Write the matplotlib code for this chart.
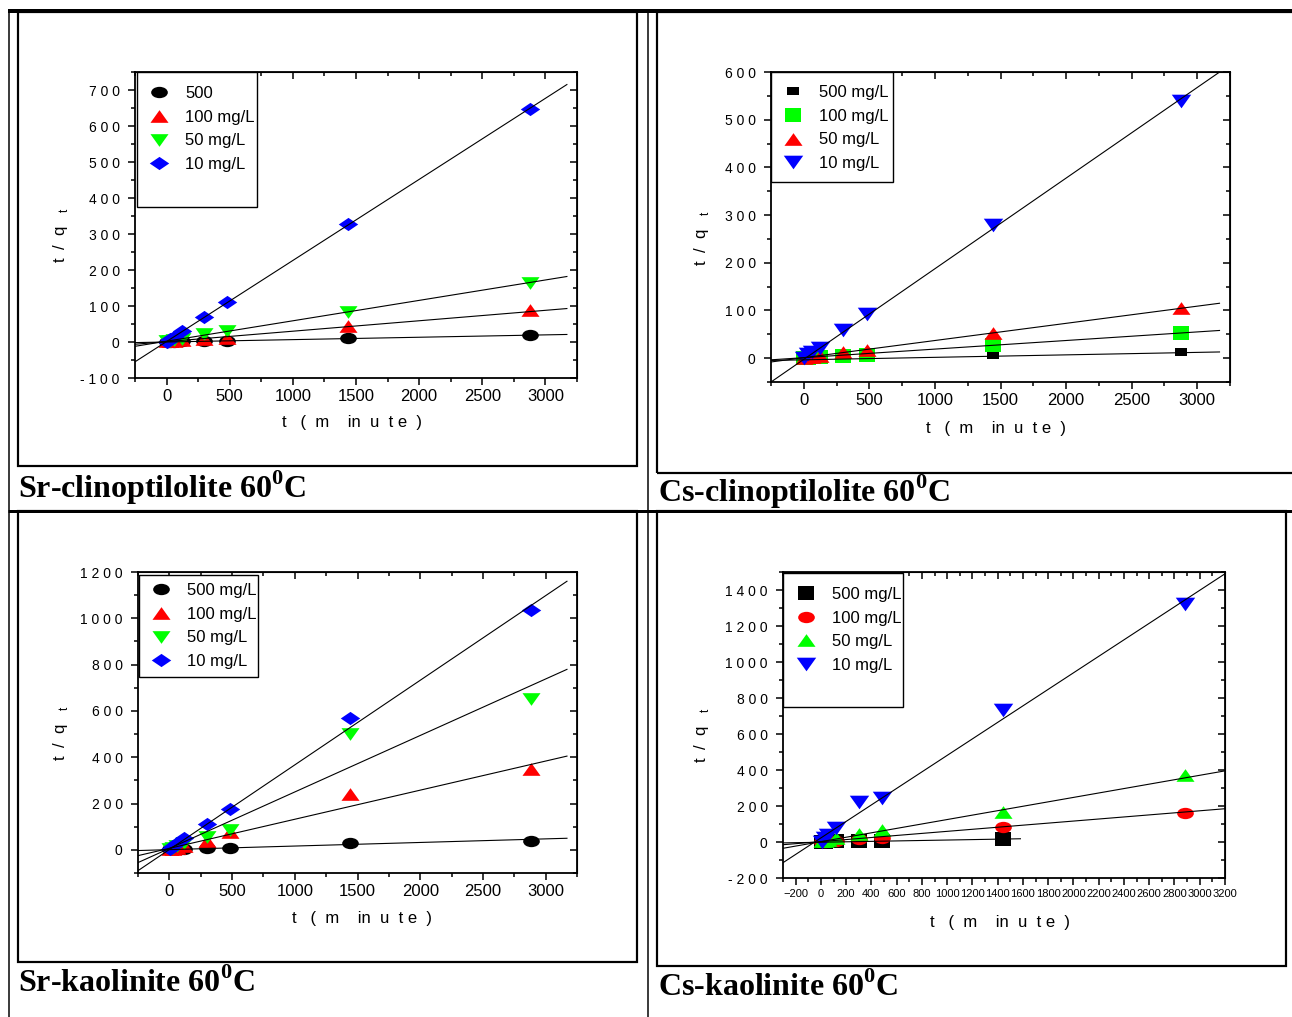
import numpy as np
import matplotlib
matplotlib.use("Agg")
import matplotlib.pyplot as plt
from matplotlib import font_manager
from matplotlib.path import Path
from matplotlib.transforms import Affine2D
from matplotlib.lines import Line2D
from matplotlib.patches import Rectangle
from matplotlib.ticker import FixedLocator, MultipleLocator, FuncFormatter

# ---------------------------------------------------------------- data
t_min = [5, 30, 60, 120, 300, 480, 1440, 2880]

# Sr on clinoptilolite, 60 C  (t/qt)
sr_clino_500 = [1, 1, 1, 2, 3, 3, 10, 20]
sr_clino_100 = [2, 2, 3, 5, 8, 12, 45, 88]
sr_clino_50 = [3, 4, 5, 8, 22, 30, 82, 165]
sr_clino_10 = [1, 8, 15, 30, 70, 112, 328, 648]
sr_clino_slope = [0.0066, 0.029, 0.0567, 0.2252]
sr_clino_icpt = [0.0, 1.0, 2.2, 1.3]

# Cs on clinoptilolite, 60 C
cs_clino_500 = [0, 1, 1, 2, 3, 3, 6, 12]
cs_clino_100 = [1, 1, 2, 3, 5, 7, 27, 53]
cs_clino_50 = [1, 2, 3, 5, 12, 18, 53, 105]
cs_clino_10 = [0, 8, 12, 22, 58, 92, 280, 540]
cs_clino_slope = [0.0052, 0.018, 0.036, 0.19]
cs_clino_icpt = [-3.5, 1.0, 1.0, -2.5]

# Sr on kaolinite, 60 C
sr_kao_500 = [2, 3, 4, 5, 8, 8, 30, 40]
sr_kao_100 = [3, 5, 8, 15, 40, 75, 240, 350]
sr_kao_50 = [5, 10, 15, 30, 55, 85, 500, 650]
sr_kao_10 = [2, 15, 30, 50, 110, 175, 570, 1035]
sr_kao_slope = [0.0155, 0.1257, 0.244, 0.3655]
sr_kao_icpt = [0.9, 6.4, 6.0, 1.4]

# Cs on kaolinite, 60 C (no 2880 min reading at 500 mg/L)
cs_kao_500 = [2, 2, 3, 3, 3, 3, 18, np.nan]
cs_kao_100 = [1, 2, 3, 5, 15, 20, 85, 160]
cs_kao_50 = [3, 5, 10, 20, 45, 65, 165, 375]
cs_kao_10 = [0, 25, 40, 80, 225, 245, 735, 1320]
cs_kao_slope = [0.0122, 0.0571, 0.1229, 0.4586]
cs_kao_icpt = [-1.3, 2.1, 1.9, 22.6]

fit_x_std = [(-250, 3170)] * 4
fit_x_cs_kao = [(-300, 1580), (-300, 3200), (-300, 3200), (-300, 3200)]

conc_labels = ["500 mg/L", "100 mg/L", "50 mg/L", "10 mg/L"]
conc_labels_first = ["500", "100 mg/L", "50 mg/L", "10 mg/L"]

captions = ["Sr-clinoptilolite 60", "Cs-clinoptilolite 60",
            "Sr-kaolinite 60", "Cs-kaolinite 60"]

# ---------------------------------------------------------------- fonts
def have(name):
    try:
        font_manager.findfont(name, fallback_to_default=False)
        return True
    except Exception:
        return False

SANS = "Liberation Sans" if have("Liberation Sans") else "DejaVu Sans"
NARROW = "Liberation Sans Narrow" if have("Liberation Sans Narrow") else SANS
SERIF = "Liberation Serif" if have("Liberation Serif") else "DejaVu Serif"

plt.rcParams["font.family"] = [SANS, "DejaVu Sans"]
plt.rcParams["mathtext.fontset"] = "custom"
plt.rcParams["mathtext.rm"] = SANS
plt.rcParams["mathtext.bf"] = SERIF + ":bold"

# ---------------------------------------------------------------- markers
def shape(verts, sx=1.0, sy=1.0):
    v = np.array(verts, float) * [sx, sy]
    codes = [Path.MOVETO] + [Path.LINETO] * (len(v) - 2) + [Path.CLOSEPOLY]
    return Path(v, codes)

ELLIPSE = Path.unit_circle().transformed(Affine2D().scale(1, 0.68))
DIAMOND = shape([(0, 1), (1, 0), (0, -1), (-1, 0), (0, 1)], 1, 0.68)
TRI_UP = shape([(-1, -0.7), (1, -0.7), (0, 0.7), (-1, -0.7)])
TRI_DN = shape([(-1, 0.7), (1, 0.7), (0, -0.7), (-1, 0.7)])
SQUARE = shape([(-1, -0.78), (1, -0.78), (1, 0.78), (-1, 0.78), (-1, -0.78)])

BLACK, RED, GREEN, BLUE = "#000000", "#ff0000", "#00ff00", "#0000ff"

# ---------------------------------------------------------------- figure
W, H = 1292, 1017
fig = plt.figure(figsize=(W / 100, H / 100), dpi=100)
PX = 72 / 100  # points per pixel


def fx(x):
    return x / W


def fy(y):
    return 1 - y / H


def hline(x0, x1, y, lw):
    fig.add_artist(Line2D([fx(x0), fx(x1)], [fy(y), fy(y)], color="black",
                          lw=lw * PX, solid_capstyle="butt"))


def vline(x, y0, y1, lw):
    fig.add_artist(Line2D([fx(x), fx(x)], [fy(y0), fy(y1)], color="black",
                          lw=lw * PX, solid_capstyle="butt"))


def box(x0, y0, x1, y1, lw=2.2):
    fig.add_artist(Rectangle((fx(x0), fy(y1)), fx(x1) - fx(x0), fy(y0) - fy(y1),
                             fill=False, ec="black", lw=lw * PX))


# table rules
hline(8, W, 10.5, 4)
vline(8.5, 10, H, 1.5)
vline(648, 10, H, 1.5)
hline(8, W, 511, 3)
# panel frames
box(18, 12, 637, 466)
box(657, 12, W + 5, 473)
box(18, 511, 637, 962)
box(657, 511, 1286, 966)


def spaced(v, pos=None):
    s = "%d" % v
    return " ".join(s)


panels = [
    dict(rect=(135, 72, 577, 378), xlim=(-250, 3250), ylim=(-100, 750),
         xt=(0, 3000, 500), xmin=250, yt=(-100, 700, 100), ymin=50, xfs=12,
         series=[sr_clino_500, sr_clino_100, sr_clino_50, sr_clino_10],
         styles=[(ELLIPSE, BLACK, 12), (TRI_UP, RED, 13), (TRI_DN, GREEN, 13), (DIAMOND, BLUE, 14)],
         slope=sr_clino_slope, icpt=sr_clino_icpt, fitx=fit_x_std,
         labels=conc_labels_first,
         leg_box=(137, 72, 257, 207), leg_mk=159, leg_row=93,
         cap=(18, 488), ylab=(60, 235), xlab=(352, 423)),
    dict(rect=(771, 72, 1230, 382), xlim=(-250, 3250), ylim=(-50, 600),
         xt=(0, 3000, 500), xmin=250, yt=(0, 600, 100), ymin=50, xfs=12,
         series=[cs_clino_500, cs_clino_100, cs_clino_50, cs_clino_10],
         styles=[(SQUARE, BLACK, 8), (SQUARE, GREEN, 12), (TRI_UP, RED, 13), (TRI_DN, BLUE, 14)],
         slope=cs_clino_slope, icpt=cs_clino_icpt, fitx=fit_x_std,
         labels=conc_labels,
         leg_box=(771, 72, 893, 182), leg_mk=793, leg_row=92,
         cap=(658, 492), ylab=(702, 238), xlab=(996, 428)),
    dict(rect=(138, 572, 577, 873), xlim=(-250, 3250), ylim=(-100, 1200),
         xt=(0, 3000, 500), xmin=250, yt=(0, 1200, 200), ymin=100, xfs=12,
         series=[sr_kao_500, sr_kao_100, sr_kao_50, sr_kao_10],
         styles=[(ELLIPSE, BLACK, 12), (TRI_UP, RED, 13), (TRI_DN, GREEN, 13), (DIAMOND, BLUE, 14)],
         slope=sr_kao_slope, icpt=sr_kao_icpt, fitx=fit_x_std,
         labels=conc_labels,
         leg_box=(139, 575, 258, 677), leg_mk=161, leg_row=590,
         cap=(18, 983), ylab=(60, 733), xlab=(362, 918)),
    dict(rect=(783, 572, 1225, 878), xlim=(-300, 3200), ylim=(-200, 1500),
         xt=(-200, 3200, 200), xmin=100, yt=(-200, 1400, 200), ymin=100, xfs=8,
         series=[cs_kao_500, cs_kao_100, cs_kao_50, cs_kao_10],
         styles=[(SQUARE, BLACK, 12), (ELLIPSE, RED, 12), (TRI_UP, GREEN, 13), (TRI_DN, BLUE, 14)],
         slope=cs_kao_slope, icpt=cs_kao_icpt, fitx=fit_x_cs_kao,
         labels=conc_labels,
         leg_box=(783, 573, 903, 707), leg_mk=806, leg_row=594,
         cap=(658, 987), ylab=(702, 735), xlab=(1000, 922)),
]

for k, p in enumerate(panels):
    x0, y0, x1, y1 = p["rect"]
    ax = fig.add_axes([fx(x0), fy(y1), fx(x1) - fx(x0), fy(y0) - fy(y1)])
    ax.set_xlim(*p["xlim"])
    ax.set_ylim(*p["ylim"])

    handles = []
    for vals, (mk, col, ms), lab in zip(p["series"], p["styles"], p["labels"]):
        h, = ax.plot(t_min, vals, ls="none", marker=mk, ms=ms, mfc=col, mec=col,
                     mew=0, label=lab, zorder=3, clip_on=False)
        handles.append(h)
    for m, b, (xa, xb) in zip(p["slope"], p["icpt"], p["fitx"]):
        xs = np.array([xa, xb], float)
        ax.plot(xs, m * xs + b, color="black", lw=0.8, zorder=4)

    # ticks
    xt = np.arange(p["xt"][0], p["xt"][1] + 1, p["xt"][2])
    ax.xaxis.set_major_locator(FixedLocator(xt))
    ax.xaxis.set_minor_locator(MultipleLocator(p["xmin"]))
    yt = np.arange(p["yt"][0], p["yt"][1] + 1, p["yt"][2])
    ax.yaxis.set_major_locator(FixedLocator(yt))
    ax.yaxis.set_minor_locator(MultipleLocator(p["ymin"]))
    ax.yaxis.set_major_formatter(FuncFormatter(spaced))
    ax.xaxis.set_major_formatter(FuncFormatter(
        lambda v, pos: ("\u2212%d" % -v) if v < 0 else "%d" % v))
    ax.tick_params(which="both", direction="out", width=1.1, top=False, right=False)
    ax.tick_params(which="major", length=5)
    ax.tick_params(which="minor", length=3)
    ax.tick_params(axis="y", labelsize=10, pad=6)
    ax.tick_params(axis="x", labelsize=p["xfs"], pad=3)
    for lbl in ax.get_xticklabels():
        lbl.set_fontfamily(NARROW)
    for side in ("left", "bottom", "top", "right"):
        ax.spines[side].set_linewidth(1.3)

    # inward ticks on the mirrored top / right edges
    top = ax.secondary_xaxis("top")
    top.xaxis.set_major_locator(FixedLocator(xt))
    top.xaxis.set_minor_locator(MultipleLocator(p["xmin"]))
    top.tick_params(which="both", direction="in", width=1.1, labeltop=False)
    top.tick_params(which="major", length=5)
    top.tick_params(which="minor", length=3)
    right = ax.secondary_yaxis("right")
    right.yaxis.set_major_locator(FixedLocator(yt))
    right.yaxis.set_minor_locator(MultipleLocator(p["ymin"]))
    right.tick_params(which="both", direction="in", width=1.1, labelright=False)
    right.tick_params(which="major", length=5)
    right.tick_params(which="minor", length=3)

    # legend frame and entries
    bx0, by0, bx1, by1 = p["leg_box"]
    frame = Rectangle((fx(bx0), fy(by1)), fx(bx1) - fx(bx0), fy(by0) - fy(by1),
                      transform=fig.transFigure, fill=True, fc="white",
                      ec="black", lw=1.0, zorder=5, clip_on=False)
    ax.add_patch(frame)
    leg = ax.legend(handles=handles, loc="upper left", frameon=False,
                    bbox_to_anchor=(fx(p["leg_mk"] - 12), fy(p["leg_row"] - 7)),
                    bbox_transform=fig.transFigure, borderpad=0, borderaxespad=0,
                    handlelength=1.45, handletextpad=0.85, labelspacing=0.52,
                    prop=dict(family=NARROW, size=12))
    leg.set_zorder(6)

    # axis titles
    fig.text(fx(p["xlab"][0]), fy(p["xlab"][1]), "t   (  m    in  u  t e  )",
             ha="center", va="center", fontsize=12)
    fig.text(fx(p["ylab"][0]), fy(p["ylab"][1]), r"t  /  q   $_{\mathrm{t}}$",
             ha="center", va="center", rotation=90, fontsize=12)

    # panel caption
    fig.text(fx(p["cap"][0]), fy(p["cap"][1]), captions[k] + r"$^{\mathbf{0}}$" + "C",
             ha="left", va="center", fontsize=23, fontweight="bold",
             family=SERIF)

fig.savefig("out.png", dpi=100)
